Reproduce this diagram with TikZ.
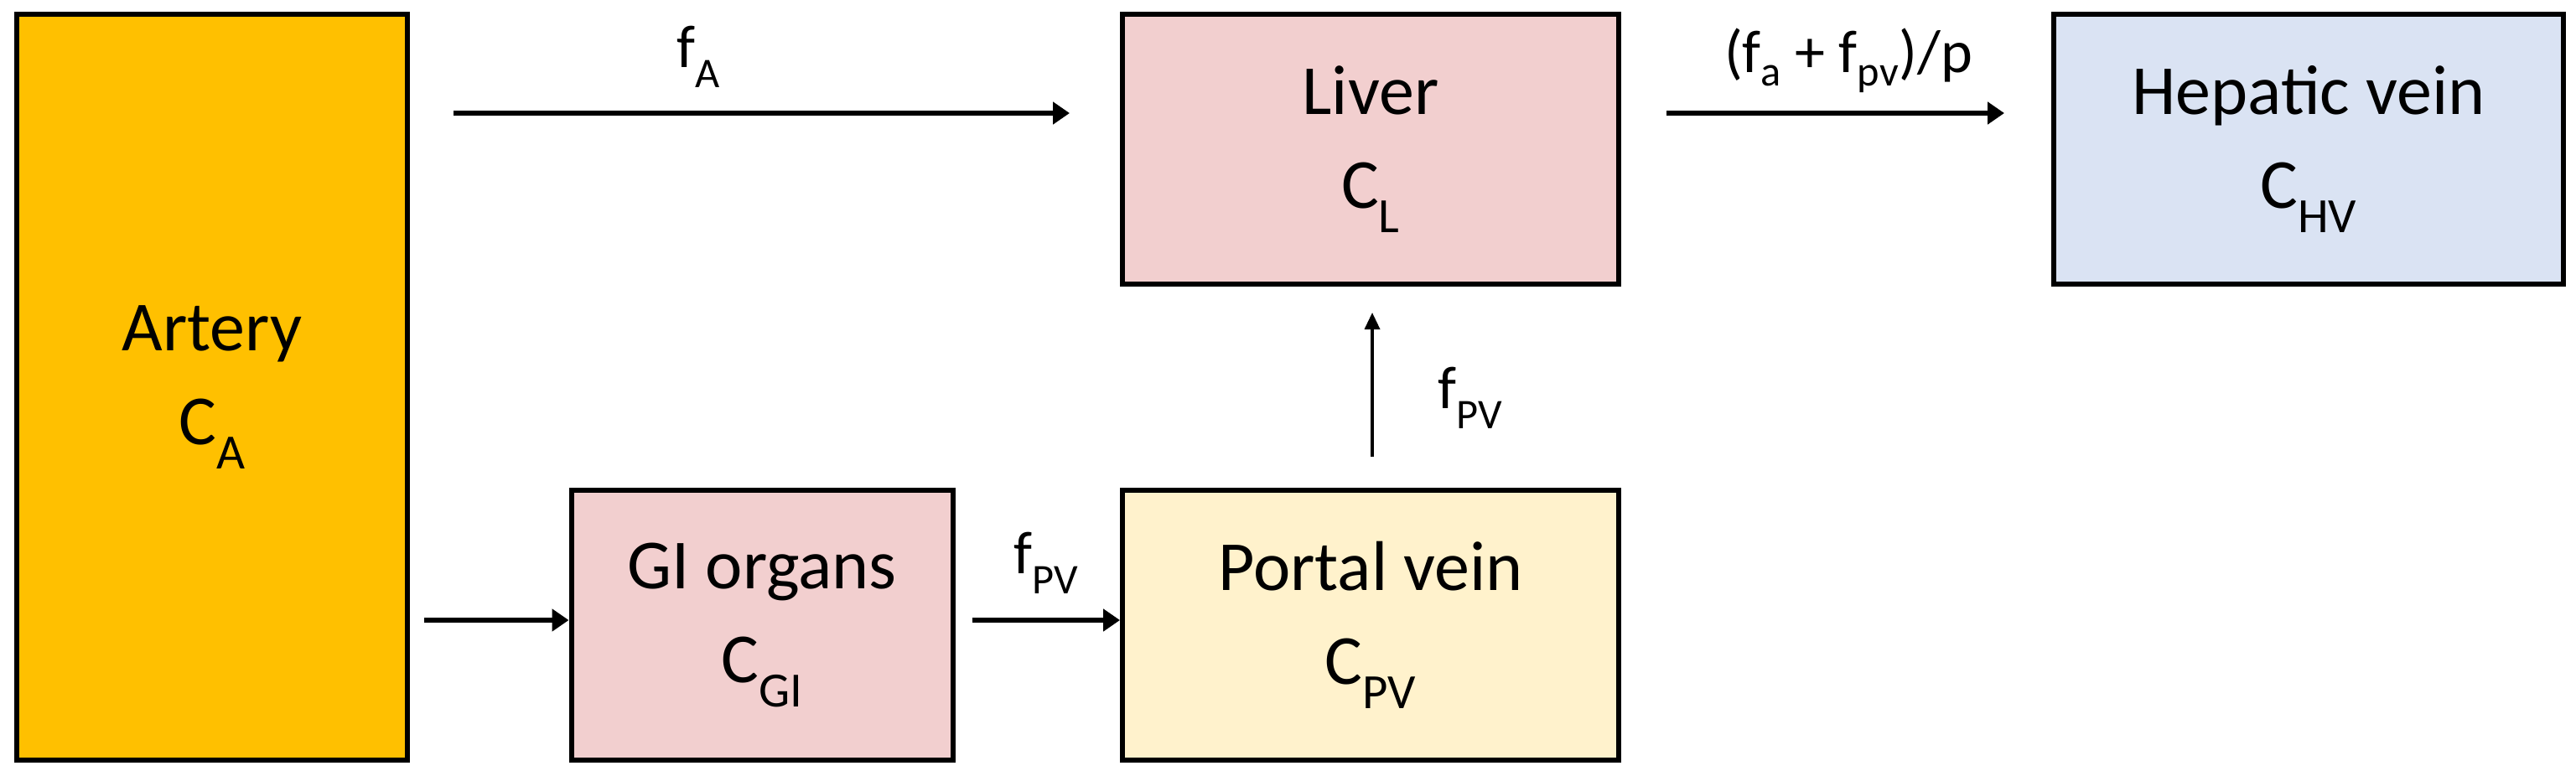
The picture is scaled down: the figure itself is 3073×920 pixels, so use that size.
\documentclass[tikz,border=0pt]{standalone}
\usepackage{fontspec}
\setmainfont{Carlito}
\usetikzlibrary{arrows.meta}
\begin{document}
\begin{tikzpicture}[x=1pt,y=-1pt,
  box/.style={draw=black,line width=6pt,inner sep=0pt,font=\fontsize{84}{112}\selectfont,align=center},
  arr/.style={line width=6pt,-{Triangle[length=20pt,width=26pt]}},
  lab/.style={font=\fontsize{72}{80}\selectfont}]
\useasboundingbox (0,0) rectangle (3073,920);
\definecolor{orangeA}{HTML}{FFC000}
\definecolor{pinkA}{HTML}{F2CFCF}
\definecolor{blueA}{HTML}{DAE3F3}
\definecolor{yelA}{HTML}{FFF2CC}
\node[box,fill=orangeA,minimum width=466pt,minimum height=889pt] (art) at (253,462) {Artery\\C\textsubscript{A}};
\node[box,fill=pinkA,minimum width=592pt,minimum height=321pt] (liv) at (1635,178) {Liver\\C\textsubscript{L}};
\node[box,fill=blueA,minimum width=608pt,minimum height=321pt] (hv) at (2754,178) {Hepatic vein\\C\textsubscript{HV}};
\node[box,fill=pinkA,minimum width=455pt,minimum height=322pt] (gi) at (909,746) {GI organs\\C\textsubscript{GI}};
\node[box,fill=yelA,minimum width=592pt,minimum height=322pt] (pv) at (1635,746) {Portal vein\\C\textsubscript{PV}};
\coordinate (a1) at (541,135);
\coordinate (a2) at (506,740);
\coordinate (v1) at (1637,545);
\coordinate (v2) at (1637,373);
\draw[arr] (a1) -- ([xshift=-60pt]liv.west |- a1);
\draw[arr] ([xshift=54pt]liv.east |- a1) -- ([xshift=-56pt]hv.west |- a1);
\draw[arr] (a2) -- (gi.west |- a2);
\draw[arr] ([xshift=20pt]gi.east |- a2) -- (pv.west |- a2);
\draw[line width=3.5pt,-{Triangle[length=20pt,width=18pt]}] (v1) -- (v2);
\node[lab] (l1) at (833,68) {f\textsubscript{A}};
\node[lab] (l2) at (2205,72) {(f\textsubscript{a} + f\textsubscript{pv})/p};
\node[lab] (l3) at (1754,475) {f\textsubscript{PV}};
\node[lab] (l4) at (1248,672) {f\textsubscript{PV}};
\end{tikzpicture}
\end{document}
